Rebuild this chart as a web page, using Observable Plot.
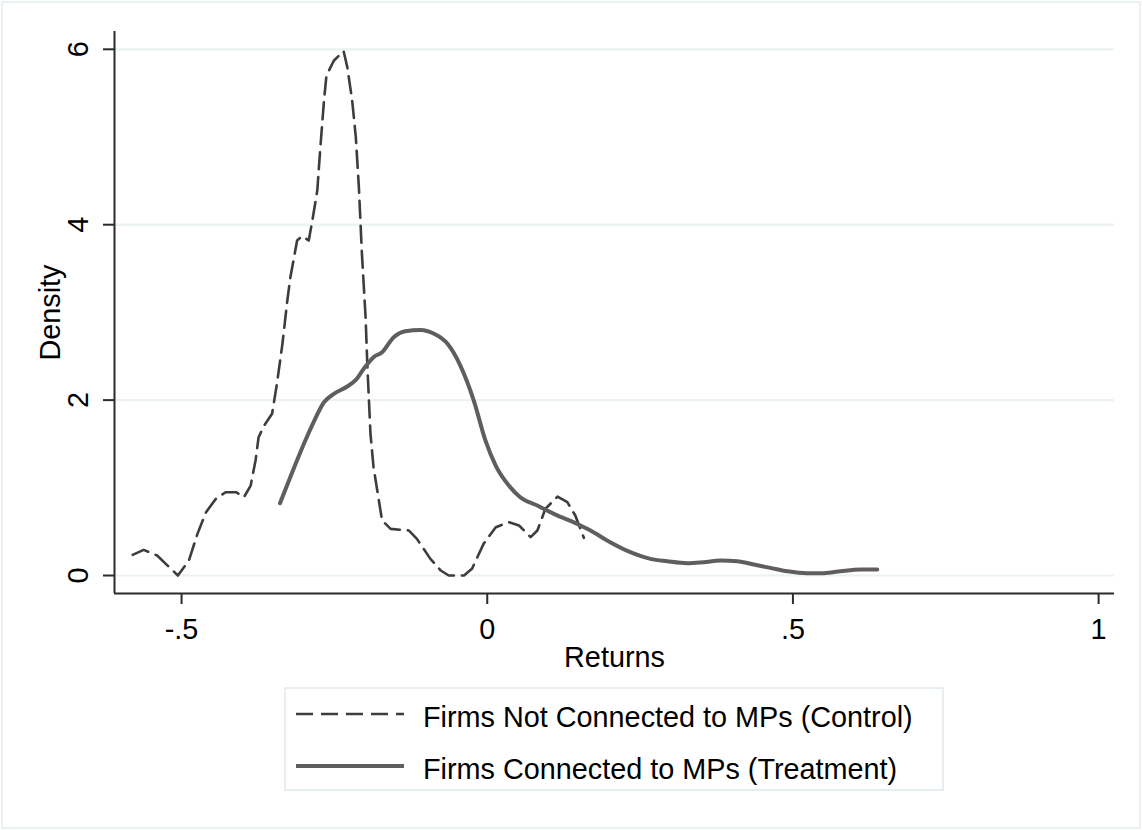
<!DOCTYPE html>
<html>
<head>
<meta charset="utf-8">
<script src="https://cdn.jsdelivr.net/npm/d3@7"></script>
<script src="https://cdn.jsdelivr.net/npm/@observablehq/plot@0.6"></script>
<style>
  html, body { margin: 0; padding: 0; background: #fff; }
  #wrap { position: relative; width: 1142px; height: 830px; background: #fff; overflow: hidden;
          font-family: "Liberation Sans", Arial, sans-serif; }
  #frame { position: absolute; left: 1px; top: 1px; width: 1136px; height: 824px;
           border: 2px solid #eaf1f3; pointer-events: none; }
  #chart { position: absolute; left: 0; top: 0; }
  #legend { position: absolute; left: 284px; top: 687px; width: 656px; height: 100px;
            border: 2px solid #e6eef1; background: #fff; }
  .row { position: absolute; left: 0; height: 40px; width: 100%; }
  .row svg { position: absolute; left: 10px; top: 0; }
  .row span { position: absolute; left: 137px; top: 2px; font-size: 28.8px; line-height: 36px; color: #000; white-space: nowrap; }
</style>
</head>
<body>
<div id="wrap">
  <div id="chart"></div>
  <div id="legend"></div>
  <div id="frame"></div>
</div>
<script>
// ---- data ----
const seriesNames = ["Firms Not Connected to MPs (Control)", "Firms Connected to MPs (Treatment)"];

const controlX = [-0.580,-0.562,-0.540,-0.506,-0.488,-0.474,-0.460,-0.444,-0.428,-0.411,-0.398,-0.387,-0.379,-0.374,-0.365,-0.352,-0.344,-0.335,-0.327,-0.322,-0.311,-0.303,-0.292,-0.286,-0.278,-0.273,-0.267,-0.263,-0.251,-0.235,-0.229,-0.221,-0.215,-0.210,-0.205,-0.199,-0.196,-0.191,-0.186,-0.172,-0.158,-0.128,-0.115,-0.093,-0.076,-0.063,-0.038,-0.025,-0.006,0.014,0.035,0.052,0.071,0.082,0.095,0.115,0.131,0.144,0.158];
const controlY = [0.236,0.293,0.228,0.0,0.171,0.475,0.722,0.874,0.950,0.950,0.893,1.026,1.311,1.577,1.710,1.844,2.186,2.642,3.136,3.40,3.82,3.87,3.82,4.05,4.39,4.88,5.42,5.70,5.87,5.98,5.80,5.42,5.00,4.43,3.67,2.945,2.375,1.616,1.235,0.627,0.532,0.513,0.418,0.190,0.057,0.0,0.0,0.076,0.361,0.551,0.608,0.570,0.437,0.513,0.760,0.90,0.836,0.684,0.430];

const treatX = [-0.339,-0.319,-0.300,-0.284,-0.267,-0.251,-0.229,-0.215,-0.202,-0.186,-0.172,-0.153,-0.134,-0.109,-0.087,-0.065,-0.044,-0.022,-0.003,0.014,0.036,0.054,0.082,0.109,0.147,0.169,0.196,0.234,0.267,0.294,0.327,0.354,0.382,0.409,0.436,0.463,0.491,0.523,0.551,0.578,0.611,0.638];
const treatY = [0.825,1.178,1.50,1.75,1.976,2.07,2.155,2.23,2.357,2.49,2.546,2.717,2.786,2.80,2.756,2.642,2.394,1.995,1.54,1.25,1.02,0.893,0.798,0.703,0.589,0.513,0.399,0.266,0.190,0.163,0.140,0.152,0.171,0.163,0.125,0.087,0.049,0.027,0.027,0.049,0.068,0.068];

const xTicks = [-0.5, 0, 0.5, 1];
const xTickLabels = ["-.5", "0", ".5", "1"];
const yTicks = [0, 2, 4, 6];
const xDomain = [-0.6097, 1.026];
const yDomain = [-0.205, 6.203];
const xTitle = "Returns";
const yTitle = "Density";

// ---- build ----
const control = controlX.map((x, i) => ({x, y: controlY[i]}));
const treat = treatX.map((x, i) => ({x, y: treatY[i]}));

const FONT = "'Liberation Sans', Arial, sans-serif";
const axisColor = "#2b2b2b";
const controlStyle = {stroke: "#3d3d3d", width: 2.6, dash: "17,8"};
const treatStyle = {stroke: "#5e5e5e", width: 4, dash: null};

const chart = Plot.plot({
  width: 1142,
  height: 680,
  marginTop: 31,
  marginBottom: 87,
  marginLeft: 114,
  marginRight: 28,
  style: {fontFamily: FONT, fontSize: "28.8px", background: "transparent", color: "#000", overflow: "visible"},
  x: {domain: xDomain},
  y: {domain: yDomain},
  marks: [
    Plot.ruleY(yTicks, {stroke: "#eaf2f3", strokeWidth: 2.2}),
    Plot.line(control, {x: "x", y: "y", stroke: controlStyle.stroke, strokeWidth: controlStyle.width, strokeDasharray: controlStyle.dash, curve: "linear"}),
    Plot.line(treat, {x: "x", y: "y", stroke: treatStyle.stroke, strokeWidth: treatStyle.width, curve: "monotone-x"}),
    Plot.ruleX([xDomain[0]], {stroke: axisColor, strokeWidth: 2}),
    Plot.ruleY([yDomain[0]], {stroke: axisColor, strokeWidth: 2}),
    Plot.axisX(xTicks, {anchor: "bottom", tickSize: 11, tickPadding: 14, stroke: axisColor, strokeWidth: 2,
      tickFormat: d => xTickLabels[xTicks.indexOf(d)], label: null, fill: "#000"}),
    Plot.axisY(yTicks, {anchor: "left", tickSize: 11, tickPadding: 16, tickRotate: -90, stroke: axisColor, strokeWidth: 2,
      tickFormat: d => String(d), label: null, fill: "#000"}),
    Plot.text([xTitle], {frameAnchor: "bottom", dy: 73, textAnchor: "middle", text: d => d, fill: "#000", fontSize: 28.8}),
    Plot.text([yTitle], {frameAnchor: "left", dx: -64, rotate: -90, textAnchor: "middle", lineAnchor: "middle", text: d => d, fill: "#000", fontSize: 28.8})
  ]
});
document.getElementById("chart").appendChild(chart);

// ---- legend ----
const legend = document.getElementById("legend");
[controlStyle, treatStyle].forEach((s, i) => {
  const row = document.createElement("div");
  row.className = "row";
  row.style.top = (i === 0 ? 8 : 60) + "px";
  row.innerHTML = `<svg width="110" height="40"><line x1="0" x2="108" y1="17" y2="17" stroke="${s.stroke}" stroke-width="${s.width}" ${s.dash ? `stroke-dasharray="${s.dash}"` : ""}/></svg><span>${seriesNames[i]}</span>`;
  legend.appendChild(row);
});
</script>
</body>
</html>
